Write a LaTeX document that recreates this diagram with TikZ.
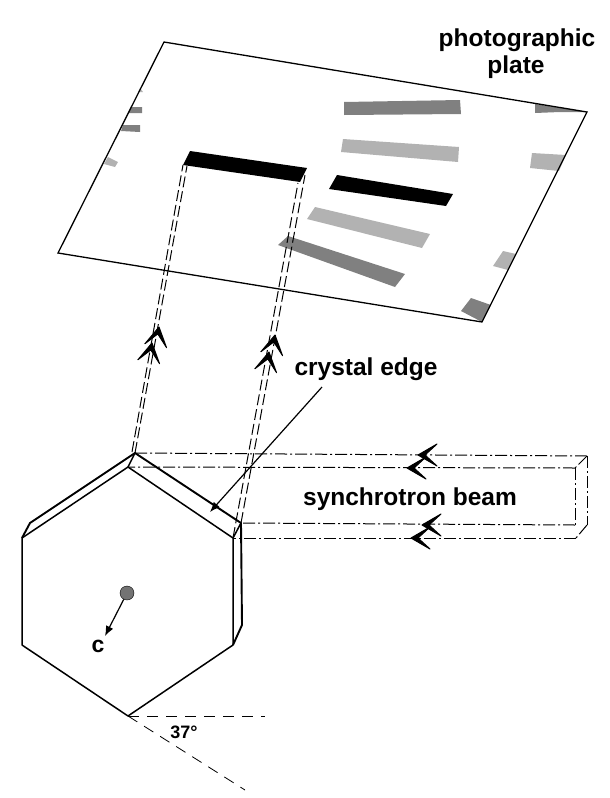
\documentclass[tikz,border=0pt]{standalone}
\usepackage{fontspec}
\setmainfont{Liberation Sans}
\usetikzlibrary{arrows.meta}

\tikzstyle{label}=[font=\bfseries\fontsize{24.5}{27}\selectfont,
                        anchor=base]
\tikzstyle{small}=[font=\bfseries\fontsize{18}{20}\selectfont,
                        anchor=base]
\tikzstyle{crystal}=[line width=1.5pt,line join=round]
\tikzstyle{backedge}=[line width=1.9pt,line join=round]
\tikzstyle{beam}=[line width=1pt,dash pattern=on 12pt off 3pt on 2pt off 3pt]
\tikzstyle{ray}=[line width=1pt,dash pattern=on 11pt off 4pt]
\tikzstyle{guide}=[line width=0.8pt,dash pattern=on 11pt off 8pt]
\tikzstyle{darkspot}=[fill=black!50]
\tikzstyle{lightspot}=[fill=black!30]
\tikzset{chevron/.pic={\filldraw[black,line width=1pt,line join=round] (0,0)--(-19,-11)--(-7,0)--(-19,11)--cycle;}}

\begin{document}
\begin{tikzpicture}[x=1pt,y=-1pt,>={Latex[length=10pt,width=8pt]}]
  \useasboundingbox (0,0) rectangle (610,798);

  % spots on the plate
  \fill[darkspot] (344,102)--(460,100)--(461,114)--(344,115)--cycle;
  \fill[lightspot] (343,139)--(459,147)--(458,162)--(341,152)--cycle;
  \fill[lightspot] (315,207)--(430,234)--(422,248)--(307,219)--cycle;
  \fill[darkspot] (288,236)--(405,274)--(395,287)--(278,245)--cycle;
  \fill[black] (190,151)--(307,168)--(300,182)--(183,165)--cycle;
  \fill[black] (337,175)--(453,194)--(446,206)--(329,189)--cycle;
  \fill[darkspot] (535,104)--(587,112)--(560,112)--(535,113)--cycle;
  \fill[lightspot] (532,153)--(566,155)--(559,171)--(530,168)--cycle;
  \fill[lightspot] (503,251)--(516,254)--(508,270)--(493,266)--cycle;
  \fill[darkspot] (471,298)--(491,305)--(482,322)--(461,311)--cycle;
  \fill[lightspot] (140,88)--(143,92)--(138,92)--cycle;
  \fill[darkspot] (132,107)--(142,107)--(142,113)--(128,113)--cycle;
  \fill[darkspot] (123,125)--(140,125)--(140,132)--(121,131)--cycle;
  \fill[lightspot] (108,157)--(118,162)--(115,167)--(104,164)--cycle;

  % the plate
  \coordinate (plateA) at (164,42);
  \coordinate (plateB) at (587,112);
  \coordinate (plateC) at (482,322);
  \coordinate (plateD) at (58,253);
  \draw[line width=1.3pt] (plateA)--(plateB)--(plateC)--(plateD)--cycle;

  % the crystal, front face then back edge
  \coordinate (hexA) at (128,467);
  \coordinate (hexB) at (233,538);
  \coordinate (hexC) at (233,645);
  \coordinate (hexD) at (128,716);
  \coordinate (hexE) at (22,645);
  \coordinate (hexF) at (22,538);
  \coordinate (backA) at (135,453);
  \coordinate (backB) at (241,523);
  \coordinate (backC) at (242,625);
  \coordinate (backF) at (30,523);
  \draw[crystal] (hexA)--(hexB)--(hexC)--(hexD)--(hexE)--(hexF)--cycle;
  \draw[backedge] (hexF)--(backF)--(backA)--(backB)--(backC)--(hexC);
  \path[-]
        (hexA) edge[crystal] (backA)
        (hexB) edge[crystal] (backB)
;

  % the rays going up
  \coordinate (rayA) at (132,452);
  \coordinate (barA) at (183,165);
  \coordinate (barB) at (187,166);
  \coordinate (barC) at (298,183);
  \coordinate (barD) at (305,175);
  \path[-]
        (rayA) edge[ray] (barA)
        (backA) edge[ray] (barB)
        (hexB) edge[ray] (barC)
        (backB) edge[ray] (barD)
;

  % the incoming beam
  \coordinate (beamA) at (587,456);
  \coordinate (beamB) at (575,468);
  \coordinate (beamC) at (575,525);
  \coordinate (beamD) at (576,538);
  \coordinate (beamE) at (587,525);
  \path[-]
        (beamA) edge[beam] (backA)
        (beamB) edge[beam] (hexA)
        (beamC) edge[beam] (backB)
        (beamD) edge[beam] (hexB)
        (beamA) edge[beam] (beamB)
        (beamB) edge[beam] (beamC)
        (beamA) edge[beam] (beamE)
        (beamE) edge[beam] (beamD)
;

  % double arrowheads
  \path (159,327) pic[rotate=80] {chevron};
  \path (152,343) pic[rotate=80] {chevron};
  \path (275,335) pic[rotate=80] {chevron};
  \path (269,352) pic[rotate=80] {chevron};
  \path (418,455) pic[rotate=180] {chevron};
  \path (407,468) pic[rotate=180] {chevron};
  \path (422,525) pic[rotate=180] {chevron};
  \path (411,538) pic[rotate=180] {chevron};

  % c axis
  \node (axis) [circle,draw=black,line width=0.4pt,fill=black!55,minimum size=14pt,inner sep=0pt] at (127,593) {};
  \node (cc) [small,font=\bfseries\fontsize{23}{23}\selectfont] at (98,652) {c};
  \coordinate (axisend) at (105,636);
  \draw[->,line width=1.2pt] (axis)--(axisend);

  % 37 degrees
  \coordinate (guideA) at (265,716);
  \coordinate (guideB) at (245,790);
  \path[-]
        (hexD) edge[guide] (guideA)
        (hexD) edge[guide] (guideB)
;
  \node (angle) [small] at (184,738) {37°};

  % labels
  \node (photo) [label] at (517,46) {photographic};
  \node (plate) [label] at (516,73) {plate};
  \node (edge) [label] at (366,375) {crystal edge};
  \node (synch) [label] at (410,505) {synchrotron beam};
  \coordinate (edgetip) at (210,512);
  \coordinate (edgefrom) at (322,387);
  \draw[->,line width=1.2pt] (edgefrom)--(edgetip);
\end{tikzpicture}
\end{document}
